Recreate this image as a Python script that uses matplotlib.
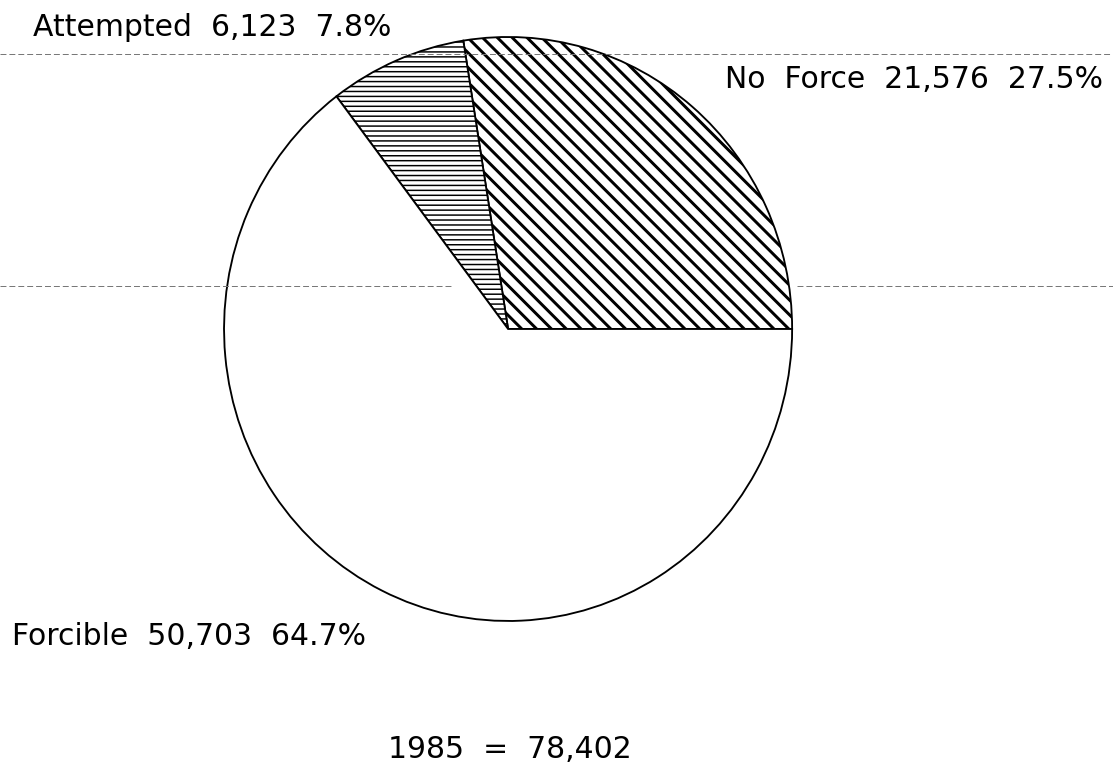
import matplotlib
matplotlib.use("Agg")
import matplotlib.pyplot as plt
from matplotlib.lines import Line2D

# Data
categories = ["No Force", "Attempted", "Forcible"]
counts = [21576, 6123, 50703]
percents = [27.5, 7.8, 64.7]
count_labels = ["21,576", "6,123", "50,703"]
year = 1985
total_label = "78,402"

hatches = ["\\\\", "---", ""]
hatch_widths = [2.4, 1.2, 1.0]

plt.rcParams["font.family"] = ["DejaVu Sans"]
plt.rcParams["hatch.color"] = "black"

# dpi 89 -> hatch spacing close to the scanned original
DPI = 89
fig = plt.figure(figsize=(1113 / DPI, 780 / DPI), dpi=DPI)
fig.patch.set_facecolor("white")

# axes placed so the pie sits where it does in the scan
ax = fig.add_axes([0.2013, 0.2026, 0.5104, 0.7487])
wedges, _ = ax.pie(
    counts,
    startangle=0,
    counterclock=True,
    radius=1.0,
    colors=["white"] * 3,
    wedgeprops=dict(edgecolor="black", linewidth=1.5),
)
for w, h, hw in zip(wedges, hatches, hatch_widths):
    w.set_hatch(h)
    if hasattr(w, "set_hatch_linewidth"):
        w.set_hatch_linewidth(hw)

ax.set_aspect("auto")
ax.set_xlim(-1.0, 1.0)
ax.set_ylim(-1.0, 1.0)
ax.axis("off")

# labels (wide spacing like the old plotter font)
txt = {c: f"{c.replace(' ', '  ')}  {n}  {p}%"
       for c, n, p in zip(categories, count_labels, percents)}
fs = 21.5 * 100 / DPI
fig.text(33 / 1113, 1 - 27 / 780, txt["Attempted"], fontsize=fs, ha="left", va="center")
fig.text(1103 / 1113, 1 - 80 / 780, txt["No Force"], fontsize=fs, ha="right", va="center")
fig.text(12 / 1113, 1 - 637 / 780, txt["Forcible"], fontsize=fs, ha="left", va="center")
fig.text(510 / 1113, 1 - 750 / 780, f"{year}  =  {total_label}", fontsize=fs,
         ha="center", va="center")

# faint scan lines from the photocopy (not data)
scan_lines = [(55, 0.0, 1.0), (287, 0.0, 0.405), (287, 0.716, 1.0)]
for yp, x0, x1 in scan_lines:
    fig.add_artist(Line2D([x0, x1], [1 - yp / 780] * 2, transform=fig.transFigure,
                          color="#777777", lw=0.8, ls=(0, (6, 3)), zorder=5))

fig.savefig("out.png", dpi=DPI, facecolor="white")
